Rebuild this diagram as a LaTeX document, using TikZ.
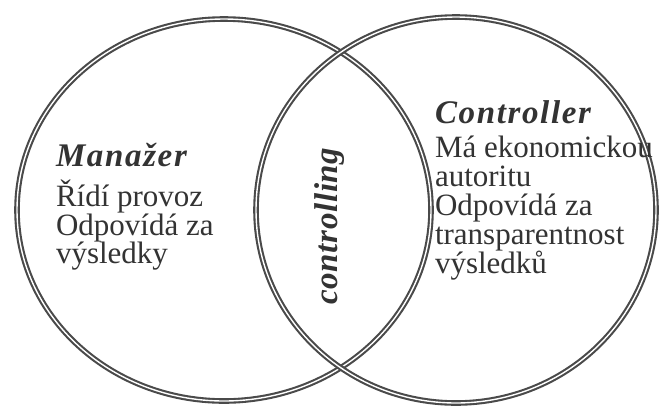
\documentclass[tikz,border=0pt]{standalone}
\usepackage{fontspec}
\setmainfont{Liberation Serif}
\newfontfamily\headfont[LetterSpace=5]{Liberation Serif}
\newfontfamily\midfont[LetterSpace=2]{Liberation Serif}
\definecolor{ringgray}{HTML}{4A4A4A}
\definecolor{inkgray}{HTML}{333333}
\begin{document}
\begin{tikzpicture}[x=1pt,y=-1pt,
  ring/.style={draw=ringgray, line width=2.1pt, double=white, double distance=1.4pt},
  txt/.style={inner sep=0pt, outer sep=0pt, anchor=base west, text=inkgray,
    font=\fontsize{31}{31}\selectfont},
  head/.style={txt, font=\fontsize{33}{33}\selectfont\headfont\bfseries\itshape},
  midtxt/.style={inner sep=0pt, outer sep=0pt, anchor=base, rotate=90, text=inkgray,
    font=\fontsize{33}{33}\selectfont\midfont\bfseries\itshape}]
\useasboundingbox (0,0) rectangle (663,405);
\fill[white] (0,0) rectangle (663,405);
\draw[ring] (224,210) ellipse [x radius=207pt, y radius=191pt];
\draw[ring] (456,210) ellipse [x radius=200pt, y radius=193pt];
% left
\node[head] (mh) at (56,166) {Manažer};
\node[txt] (m1) at (56,206) {Řídí provoz};
\node[txt] (m2) at (56,235) {Odpovídá za};
\node[txt] (m3) at (56,263) {výsledky};
% right
\node[head] (ch) at (435,123) {Controller};
\node[txt] (c1) at (435,157) {Má ekonomickou};
\node[txt] (c2) at (435,186) {autoritu};
\node[txt] (c3) at (435,215) {Odpovídá za};
\node[txt] (c4) at (435,244) {transparentnost};
\node[txt] (c5) at (435,273) {výsledků};
% middle
\node[midtxt] (mid) at (337,226) {controlling};
\end{tikzpicture}
\end{document}
